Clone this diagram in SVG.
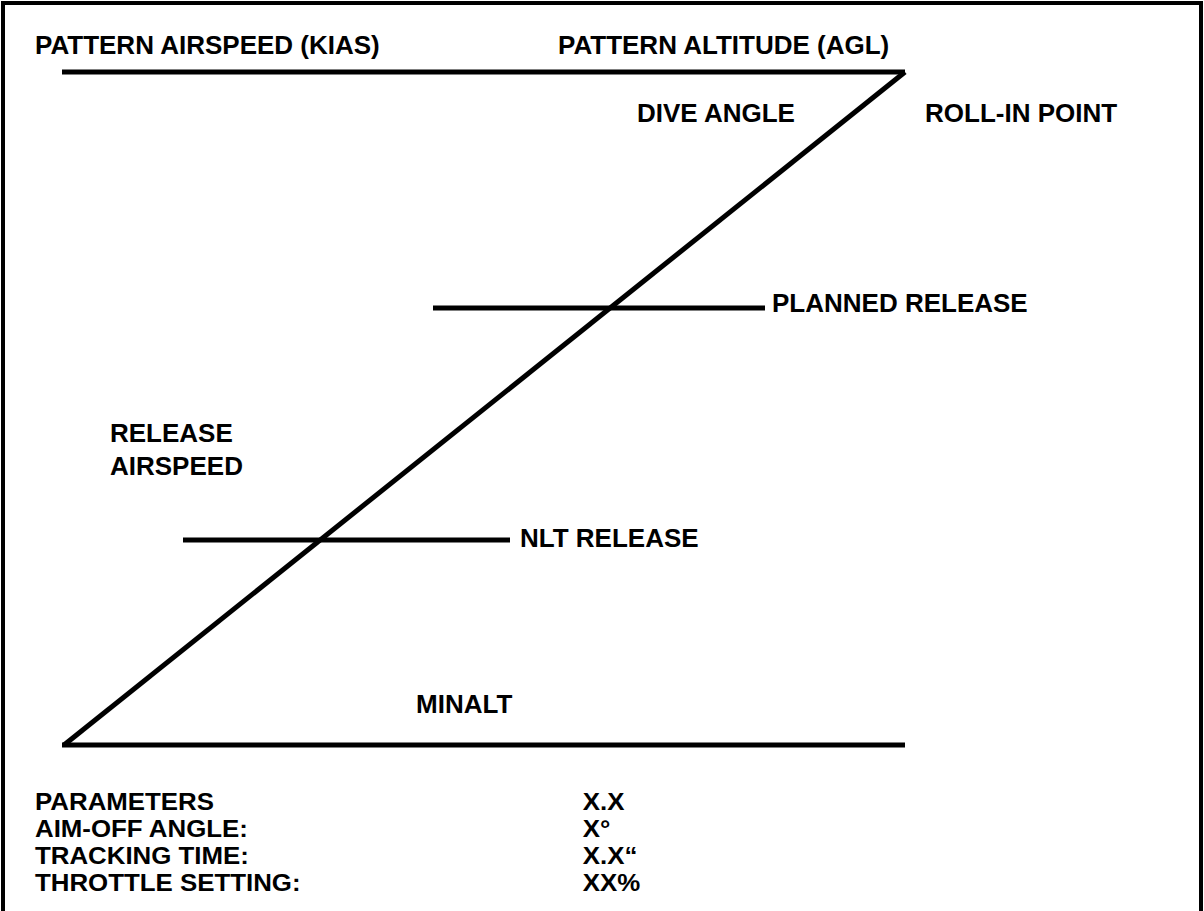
<svg xmlns="http://www.w3.org/2000/svg" width="1204" height="911" viewBox="0 0 1204 911">
<style>
text{font-family:"Liberation Sans",Arial,sans-serif;font-weight:bold;font-size:26px;fill:#000}
.p text{font-size:23.5px}
.ln{stroke:#000;stroke-width:5;fill:none}
</style>
<rect x="0" y="0" width="1204" height="911" fill="#fff"/>
<path d="M3,913 V3 H1201 V913" fill="none" stroke="#000" stroke-width="4"/>
<g id="connectors">
<line class="ln" x1="62" y1="72" x2="905" y2="72"/>
<line class="ln" x1="905" y1="72" x2="64" y2="745"/>
<line class="ln" x1="62" y1="745" x2="905" y2="745"/>
<line class="ln" x1="433" y1="308" x2="765" y2="308"/>
<line class="ln" x1="183" y1="540" x2="510" y2="540"/>
</g>
<g id="labels">
<text x="35" y="54">PATTERN AIRSPEED (KIAS)</text>
<text x="558" y="54">PATTERN ALTITUDE (AGL)</text>
<text x="637" y="122">DIVE ANGLE</text>
<text x="925" y="122">ROLL-IN POINT</text>
<text x="772" y="312">PLANNED RELEASE</text>
<text x="110" y="442">RELEASE</text>
<text x="110" y="475">AIRSPEED</text>
<text x="520" y="547">NLT RELEASE</text>
<text x="416" y="713">MINALT</text>
</g>
<g id="parameters" class="p" transform="translate(35,0) scale(1.1,1)">
<text x="0" y="810">PARAMETERS</text>
<text x="0" y="837">AIM-OFF ANGLE:</text>
<text x="0" y="864">TRACKING TIME:</text>
<text x="0" y="891">THROTTLE SETTING:</text>
<text x="498" y="810">X.X</text>
<text x="498" y="837">X°</text>
<text x="498" y="864">X.X“</text>
<text x="498" y="891">XX%</text>
</g>
</svg>
